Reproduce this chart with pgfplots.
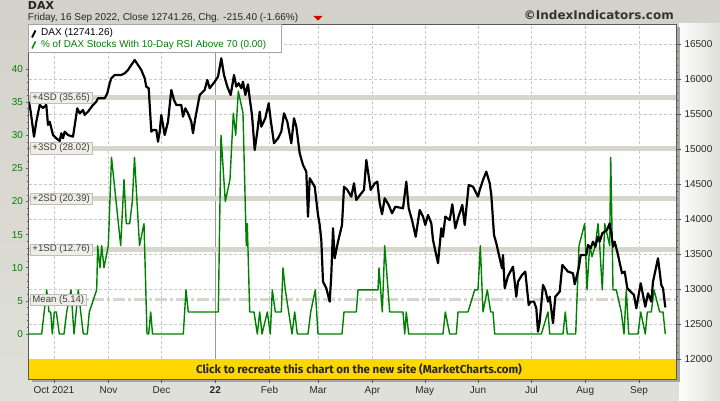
\documentclass[border=0pt]{standalone}
\usepackage{pgfplots}
\pgfplotsset{compat=1.18}
\usepackage{pgfplotstable}
\usepackage{fontspec}
\setmainfont{Liberation Sans}
\newfontfamily\hdfont{DejaVu Sans}
\newfontfamily\barfont{Fira Sans}

\definecolor{bgtop}{RGB}{210,210,202}
\definecolor{bgbot}{RGB}{224,224,218}
\definecolor{bandgray}{RGB}{214,214,204}
\definecolor{gridgray}{RGB}{200,200,200}
\definecolor{rsigreen}{RGB}{0,128,0}
\definecolor{baryellow}{RGB}{255,215,0}
\definecolor{labelfill}{RGB}{238,238,230}
\definecolor{labeldraw}{RGB}{190,190,182}
\definecolor{txtgray}{RGB}{40,40,40}

% t = trading-time position (left edge of plot = 0), v = value
\pgfplotstableread{
t v
0 15677
1.7 15534
5 15177
7.3 15391
10.7 15630
14 15587
17.3 15630
19 15344
20.7 15391
24 15201
27.3 15154
30.7 15116
32.3 15226
34 15154
35.7 15249
39 15201
44 15177
48.3 15582
50.7 15511
54 15558
55.7 15487
59 15534
64 15630
67.3 15677
69 15725
75.7 15725
78.3 15797
80.7 15939
82.3 16011
85.7 16058
92.3 16058
95.7 16082
99 16129
102.3 16200
105.7 16272
109 16200
112.3 16129
115.7 16011
117.3 15891
119.7 15868
122.3 15249
124 15273
127.3 15273
129 15106
130.7 15249
132.3 15487
135.7 15201
139 15391
142.3 15844
145 15701
147.3 15630
152.3 15630
154 15463
156.3 15582
159 15511
162.3 15391
164 15226
166.3 15440
170.7 15772
175.7 15844
178.3 15986
180.7 15868
185.7 15962
189 16033
192.3 16296
195 16058
198.3 15891
201.7 15772
205 16058
207.3 15891
209.7 15939
212.3 15868
214 15962
216.3 15772
219 15925
220.7 15725
223 15487
225.7 14987
228.3 15249
230.7 15534
232.3 15320
236.3 15440
239.7 15654
241.7 15415
245 15083
249 15154
252.3 15249
255 15511
258.3 15391
262.3 15083
265 15440
267.3 15320
270.7 14940
274 14773
277.3 14678
279 14036
280.7 14584
285.7 14464
289 14060
290.7 13917
292.3 13703
294 13108
297.3 13014
300.7 12823
302.3 13204
304 13870
305.7 13442
309 13679
313 13917
315 14464
318.3 14417
322.3 14321
325 14512
327.3 14274
332.3 14369
335 14417
337.3 14845
341.7 14417
345.7 14512
348.3 14535
350.7 14227
353 14070
355.7 14298
359.7 14203
363 14084
366.3 14178
374 14155
377.3 14535
379.7 14155
383 13988
386.7 13750
390.7 14131
394 14036
396.3 13917
399 14060
402.3 13941
404 13703
409 13371
412.3 13870
414 13750
416.3 14036
420.7 13988
423.3 14212
426.3 13870
429 14013
433.3 14203
435.7 13917
439.7 14488
444 14464
449 14321
450.7 14417
454 14559
457.3 14678
460.7 14512
462.3 14345
465 13774
467.3 13656
470.7 13442
473 13299
474 13489
475.7 13014
479 13189
484 13322
487.3 12894
489 13108
493 13204
496.3 13251
499.7 12775
501.7 12823
505 12823
507.3 12728
509 12395
510.7 12537
514 13061
516.3 12990
519 12823
520.7 12894
524 12514
526.3 12894
530.7 12965
533.3 13346
539 13251
544 13228
545.7 13071
549.7 13299
551.7 13489
557.3 13489
559 13632
561.7 13585
564 13679
566.3 13607
569 13750
570.7 13679
573.3 13799
575.7 13822
578 13846
580.7 13941
582.3 13799
584 13607
585.7 13679
589 13489
593 13228
595.7 13251
598.3 13014
601.7 12965
605 12918
607.3 12728
611.7 13085
614 12918
616.3 12751
619 12942
622.3 12823
624 13108
629 13442
632.3 13061
634 13014
636.3 12741
}\daxtable

\pgfplotstableread{
t v
0 0
12.7 0
17.7 6.67
20 3.33
21.7 3.33
23.3 0
25.3 3.33
27.3 3.33
30.3 0
35 0
37.7 3.33
42 6.67
45 0
49.3 6.67
51.7 3.33
54.3 0
58.3 0
60.3 3.33
67.7 6.67
68.7 13.33
71 10
72.7 13.33
75 10
79.3 13.33
82.5 26.67
91.7 13.33
95 23.33
97.3 16.67
100.7 16.67
103.3 20
105.5 26.67
110.5 13.33
115 16.67
118 0
119.7 0
121.7 3.33
123.5 0
154.3 0
157 6.67
159.3 3.33
189.3 3.33
192 30
196.3 20
201 23.33
204.3 33.33
206.7 30
209.3 36.67
214 33.33
217.3 13.33
218.3 16.67
220.7 3.33
225 3.33
228.3 0
230.7 3.33
233 0
238.3 3.33
241.3 0
243.3 6.67
246.3 3.33
252.3 3.33
254 10
256.3 6.67
263 0
265.7 3.33
268.3 0
279 0
281.7 3.33
286.3 6.67
289 0
313 0
315 3.33
327.3 3.33
329 6.67
349 6.67
350 10
353.3 3.33
355.7 13.33
360.7 3.33
374 3.33
375.7 0
377.3 3.33
379.7 0
414 0
416.3 3.33
420.7 0
427.3 0
429 3.33
439 3.33
445.7 6.67
449 6.67
451.3 13.33
454 3.33
458.3 6.67
461.7 3.33
464 3.33
465.7 0
512.3 0
519 3.33
520.7 0
534 0
536.3 3.33
538.3 0
546.7 0
548.3 6.67
550 13.33
555.7 16.67
558 6.67
560.7 13.33
563 11.67
566.3 13.33
569 16.67
570.7 13.33
573.3 6.67
575.7 16.67
580.7 13.33
581.7 26.67
583.3 13.33
584 6.67
587.3 6.67
592.3 3.33
595 0
597.3 6.67
599.7 0
609 0
611.7 3.33
616.3 0
618.3 3.33
622.3 3.33
625 6.67
630.7 3.33
634 3.33
636.3 0
}\rsitable

\pgfplotsset{
  base/.style={at={(28.5pt,21pt)}, anchor=south west, scale only axis,
    width=647.5pt, height=354.7pt, xmin=-0.5, xmax=647,
    axis line style={draw=none}},
  lbl/.style={font=\fontsize{10}{12}\selectfont, text=txtgray},
}

\begin{document}
\begin{tikzpicture}[x=1pt,y=1pt]
\useasboundingbox (0,0) rectangle (720,400);
\shade[top color=bgtop, bottom color=bgbot] (0,0) rectangle (720,400);
\shade[left color=white!92!bgbot, right color=bgbot] (679,0) rectangle (720,376);
% plot shadow and background
\fill[black!35] (31.5,18) rectangle (679.5,372.7);
\fill[white] (28.5,21) rectangle (676,375.7);

% axis 1: DAX scale, grid, ticks, yellow bar
\begin{axis}[base,
  ymin=11719, ymax=16781,
  ytick={12000,12500,...,16500}, minor y tick num=4,
  scaled y ticks=false,
  ytick pos=right, yticklabel pos=right,
  xtick={25,79.5,132.5,186.3,240.5,289.2,343.5,395.8,449,502.5,556.2,610},
  xticklabels={Oct 2021,Nov,Dec,\textbf{22},Feb,Mar,Apr,May,Jun,Jul,Aug,Sep},
  xtick pos=left,
  tick align=outside,
  major tick length=5pt, minor tick length=1.5pt,
  xtick style={/pgfplots/major tick length=4pt},
  tick style={color=black!65, line width=0.6pt},
  grid=major,
  major grid style={gridgray, dash pattern=on 3pt off 2pt, line width=0.6pt},
  /pgf/number format/assume math mode=true,
  /pgf/number format/set thousands separator={},
  yticklabel style={lbl, /pgf/number format/fixed},
  xticklabel style={lbl, yshift=1pt},
]
\draw[black!40, line width=0.8pt] (axis cs:186.3,11719) -- (axis cs:186.3,16781);
\fill[baryellow] (axis cs:-0.5,11719) rectangle (axis cs:647,12000);
\node[font=\barfont\bfseries\fontsize{11.5}{13}\selectfont, text=black!85]
  at (axis cs:330,11862) {Click to recreate this chart on the new site (MarketCharts.com)};
\end{axis}

% axis 2: RSI percentage scale, bands, green line
\begin{axis}[base,
  ymin=-6.79, ymax=46.75,
  ytick={0,5,...,40}, minor y tick num=4,
  ytick pos=left, xtick=\empty,
  tick align=outside,
  major tick length=2pt, minor tick length=1.5pt,
  tick style={color=black!60, line width=0.6pt},
  yticklabel style={font=\fontsize{10}{12}\selectfont, text=rsigreen},
  /pgf/number format/assume math mode=true,
]
\addplot[bandgray, line width=5pt] coordinates {(-0.5,35.65) (647,35.65)};
\addplot[bandgray, line width=5pt] coordinates {(-0.5,28.02) (647,28.02)};
\addplot[bandgray, line width=5pt] coordinates {(-0.5,20.39) (647,20.39)};
\addplot[bandgray, line width=5pt] coordinates {(-0.5,12.76) (647,12.76)};
\addplot[bandgray, line width=3pt, dash pattern=on 12pt off 3pt on 3pt off 3pt] coordinates {(-0.5,5.14) (647,5.14)};
\addplot[rsigreen, line width=1.4pt, line join=round] table[x=t, y=v] {\rsitable};
\end{axis}

% axis 3: DAX line
\begin{axis}[base, hide axis, ymin=11719, ymax=16781]
\addplot[black, line width=2.2pt, line join=round] table[x=t, y=v] {\daxtable};
\end{axis}

% axis 4: band labels on top of the lines
\begin{axis}[base, hide axis, ymin=-6.79, ymax=46.75, clip=false]
\foreach \lv/\tx in {35.65/+4SD (35.65), 28.02/+3SD (28.02), 20.39/+2SD (20.39), 12.76/+1SD (12.76), 5.14/Mean (5.14)}{
  \edef\temp{\noexpand\node[anchor=west, fill=labelfill, draw=labeldraw, line width=0.5pt,
    inner xsep=2pt, inner ysep=1.2pt, font=\noexpand\fontsize{9.6}{11}\noexpand\selectfont, text=black!75]
    at (axis cs:1.2,\lv) {\tx};}
  \temp
}
\end{axis}

% border
\draw[black!65, line width=0.8pt] (28.5,21) rectangle (676,375.7);

% legend
\draw[fill=white, draw=black!35, line width=0.6pt] (28.5,347.3) rectangle (281.7,375.7);
\draw[black, line width=2pt] (32,362.5) -- (35.5,369.5);
\draw[rsigreen, line width=1.5pt] (32,351.5) -- (35.5,358.5);
\node[anchor=west, inner sep=0pt, font=\fontsize{10}{12}\selectfont, text=black] at (41,366.7) {DAX (12741.26)};
\node[anchor=west, inner sep=0pt, font=\fontsize{9.9}{12}\selectfont, text=rsigreen] at (41,354.8) {\% of DAX Stocks With 10-Day RSI Above 70 (0.00)};

% header
\node[anchor=base west, inner sep=0pt, font=\hdfont\bfseries\fontsize{11}{13}\selectfont, text=black!85] at (27.7,390.7) {DAX};
\node[anchor=base west, inner sep=0pt, font=\fontsize{10}{12}\selectfont, text=black!85] at (27.7,379.5) {Friday, 16 Sep 2022, Close 12741.26, Chg. -215.40 (-1.66\%)};
\fill[red!85!black] (313.3,384) -- (322.7,384) -- (318,379.3) -- cycle;
\node[anchor=base east, inner sep=0pt, font=\hdfont\bfseries\fontsize{12}{14}\selectfont, text=black!80] at (674,380) {©IndexIndicators.com};
\end{tikzpicture}
\end{document}
